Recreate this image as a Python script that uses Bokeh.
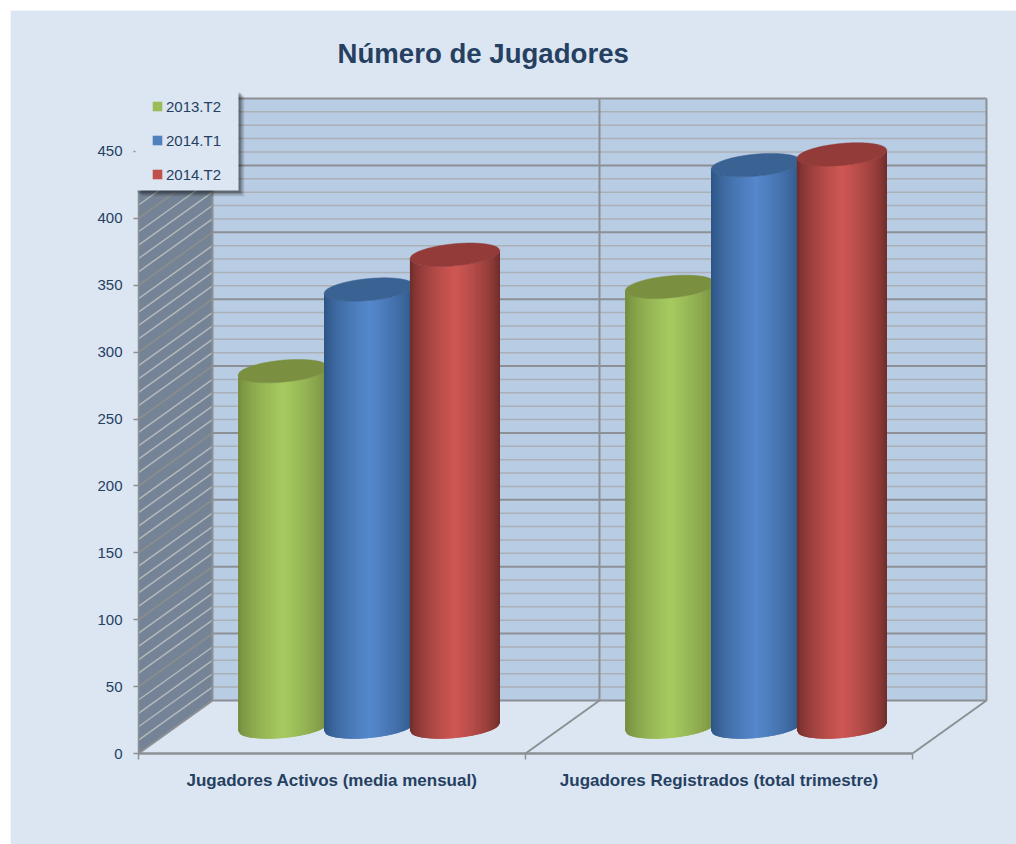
import numpy as np
from bokeh.plotting import figure
from bokeh.layouts import column, row
from bokeh.models import (Range1d, LinearAxis, FixedTicker, Legend, LegendItem,
                          BoxAnnotation, Label, ColumnDataSource, Spacer)
from bokeh.embed import file_html
from bokeh.resources import INLINE

# ---------- data ----------
title_text = "Número de Jugadores"
categories = ["Jugadores Activos (media mensual)", "Jugadores Registrados (total trimestre)"]
series_names = ["2013.T2", "2014.T1", "2014.T2"]
series_2013_t2 = [266, 329]
series_2014_t1 = [327, 420]
series_2014_t2 = [353, 428]
y_ticks = [0, 50, 100, 150, 200, 250, 300, 350, 400, 450]

# ---------- style ----------
BG = "#DCE6F2"
WALL = "#B8CCE4"
SIDE = "#748496"
TXT = "#254061"
MAJOR = "#8C9094"
MINOR = "#ABB0B6"
FONT = "Liberation Sans"
base_cols = [(167, 203, 97), (85, 136, 204), (208, 88, 84)]
edge_cols = [(112, 134, 58), (42, 80, 125), (104, 42, 40)]
top_cols = ["#7A9040", "#3A6293", "#933B39"]
leg_cols = ["#9BBB59", "#4F81BD", "#C0504D"]

PX_X, PX_Y = 387.0, 1.3378     # px per category / per value unit
DX, DY = 74 / PX_X, 53 / PX_Y  # chart depth in data units
A = 45 / PX_X                  # cylinder half width
S, B = 4 / PX_Y, 11 / PX_Y     # ellipse tilt, half-height
STEP = 0.222                   # spacing of series in a group
OFF = 10                       # white band left and above the chart
PAD = 48                       # frame margin left of the axis: holds tick labels and legend box
PADB = 45                      # frame margin under the axis: holds the category labels
PADT = 723                     # frame height above the axis: holds the title
W, H = 1016 - OFF, 844 - OFF
L, T, FW, FH = 138 - PAD - OFF, 30 - OFF, 852 + PAD, PADT + PADB

p = figure(width=W, height=H, output_backend="svg", toolbar_location=None,
           x_range=Range1d(-PAD / PX_X, 852 / PX_X), y_range=Range1d(-PADB / PX_Y, PADT / PX_Y),
           x_axis_type=None, y_axis_type=None,
           min_border_left=L, min_border_right=W - L - FW,
           min_border_top=T, min_border_bottom=H - T - FH,
           background_fill_color=BG, border_fill_color=BG, outline_line_color=BG)
p.grid.visible = False

# ---------- walls ----------
top_v = max(y_ticks)
p.patch([DX, 2 + DX, 2 + DX, DX], [DY, DY, DY + top_v, DY + top_v], fill_color=WALL, line_color=None)
p.patch([0, DX, DX, 0], [0, DY, DY + top_v, top_v], fill_color=SIDE, line_color=None)

levels = list(range(0, top_v + 1, 10))
minor = [v for v in levels if v % 50]
p.segment([DX] * len(minor), [v + DY for v in minor], [2 + DX] * len(minor), [v + DY for v in minor],
          line_color=MINOR, line_width=1.5)
p.segment([0] * len(minor), minor, [DX] * len(minor), [v + DY for v in minor],
          line_color="#B4B8BC", line_width=1.5)
p.segment([DX] * len(y_ticks), [v + DY for v in y_ticks], [2 + DX] * len(y_ticks), [v + DY for v in y_ticks],
          line_color=MAJOR, line_width=2)
p.segment([0] * len(y_ticks), y_ticks, [DX] * len(y_ticks), [v + DY for v in y_ticks],
          line_color="#8E8E8A", line_width=1.5)
# vertical wall edges and floor edges
for c in [0, 1, 2]:
    p.segment([c], [0], [c + DX], [DY], line_color=MAJOR, line_width=2)
    p.segment([c + DX], [DY], [c + DX], [DY + top_v], line_color=MAJOR, line_width=2)

# ---------- cylinders ----------
xu = np.linspace(-1, 1, 61)


def lower(yc, u):
    return yc + S * u - B * np.sqrt(np.clip(1 - u * u, 0, 1))


def upper(yc, u):
    return yc + S * u + B * np.sqrt(np.clip(1 - u * u, 0, 1))


def shade(i, u):
    f = (1 - abs(u)) ** 0.6
    b, e = base_cols[i], edge_cols[i]
    return "#%02x%02x%02x" % tuple(int(e[k] + (b[k] - e[k]) * f) for k in range(3))


all_series = [series_2013_t2, series_2014_t1, series_2014_t2]
for g in range(len(categories)):
    for i, vals in enumerate(all_series):
        cx = g + 0.5 + (i - 1) * STEP + DX / 2
        y0 = DY / 2
        y1 = DY / 2 + vals[g]
        xs, ys, cs = [], [], []
        # each strip reaches under the next one, so no seams show
        for n, (u0, u1) in enumerate(zip(xu[:-1], xu[1:])):
            u2 = xu[min(n + 2, len(xu) - 1)]
            xs.append([cx + A * u0, cx + A * u2, cx + A * u2, cx + A * u0])
            ys.append([float(lower(y0, u0)), float(lower(y0, u2)),
                       float(lower(y1, u2)), float(lower(y1, u0))])
            cs.append(shade(i, (u0 + u1) / 2))
        p.patches("xs", "ys", source=ColumnDataSource(dict(xs=xs, ys=ys, c=cs)),
                  fill_color="c", line_color=None)
        ux = np.linspace(-1, 1, 80)
        ex = np.concatenate([cx + A * ux, cx + A * ux[::-1]]).tolist()
        ey = np.concatenate([upper(y1, ux), lower(y1, ux[::-1])]).tolist()
        p.patch(ex, ey, fill_color=top_cols[i], line_color=top_cols[i], line_width=0.5)

# ---------- axes ----------
yax = LinearAxis(ticker=FixedTicker(ticks=y_ticks), bounds=(0, top_v), fixed_location=0,
                 axis_line_color=MAJOR, axis_line_width=1.5,
                 major_tick_line_color=MAJOR, major_tick_line_width=1.5,
                 major_tick_in=0, major_tick_out=5, minor_tick_out=0, minor_tick_in=0,
                 major_label_standoff=11, major_label_text_font=FONT,
                 major_label_text_font_size="15px", major_label_text_color=TXT)
p.add_layout(yax, "left")

xax = LinearAxis(ticker=FixedTicker(ticks=[0.5, 1.5], minor_ticks=[0, 1, 2]), bounds=(0, 2), fixed_location=0,
                 major_label_overrides={0.5: categories[0], 1.5: categories[1]},
                 axis_line_color=MAJOR, axis_line_width=2.5,
                 major_tick_in=0, major_tick_out=0,
                 minor_tick_in=0, minor_tick_out=6,
                 minor_tick_line_color=MAJOR, minor_tick_line_width=1.5,
                 major_label_standoff=11, major_label_text_font=FONT,
                 major_label_text_font_style="bold",
                 major_label_text_font_size="17px", major_label_text_color=TXT)
p.add_layout(xax, "below")

# ---------- title ----------
p.add_layout(Label(x=337 - 138 + PAD, y=700 + PADB, x_units="screen", y_units="screen", text=title_text,
                   text_font=FONT, text_font_style="bold", text_font_size="27.6px",
                   text_color=TXT, text_baseline="middle", text_align="left"))

# ---------- legend ----------
LX0, LX1, LY0, LY1 = PAD - 3, PAD + 100, 563 + PADB, 663 + PADB
for off, alpha in [(6, 0.07), (5, 0.09), (4, 0.11), (3, 0.14), (2, 0.16)]:
    p.add_layout(BoxAnnotation(left=LX0 + off, right=LX1 + off, top=LY1 - off, bottom=LY0 - off,
                               left_units="screen", right_units="screen",
                               top_units="screen", bottom_units="screen",
                               fill_color="#000000", fill_alpha=alpha, line_alpha=0))
p.add_layout(BoxAnnotation(left=LX0, right=LX1, top=LY1, bottom=LY0,
                           left_units="screen", right_units="screen",
                           top_units="screen", bottom_units="screen",
                           fill_color=BG, fill_alpha=1, line_alpha=0))
swatches = [p.quad(left=[0], right=[0], top=[0], bottom=[0], fill_color=c, line_color=None) for c in leg_cols]
legend = Legend(items=[LegendItem(label=n, renderers=[r]) for n, r in zip(series_names, swatches)],
                location=(PAD + 13, 569 + PADB), orientation="vertical", padding=0, margin=0,
                background_fill_alpha=0, border_line_alpha=0,
                glyph_width=12, glyph_height=12, label_standoff=3,
                label_height=20, spacing=14, label_text_font=FONT,
                label_text_font_size="15px", label_text_color=TXT)
p.add_layout(legend, "center")

layout = column(Spacer(height=OFF, width=1016), row(Spacer(width=OFF, height=H), p), spacing=0)
open("out.html", "w").write(file_html(layout, INLINE))
